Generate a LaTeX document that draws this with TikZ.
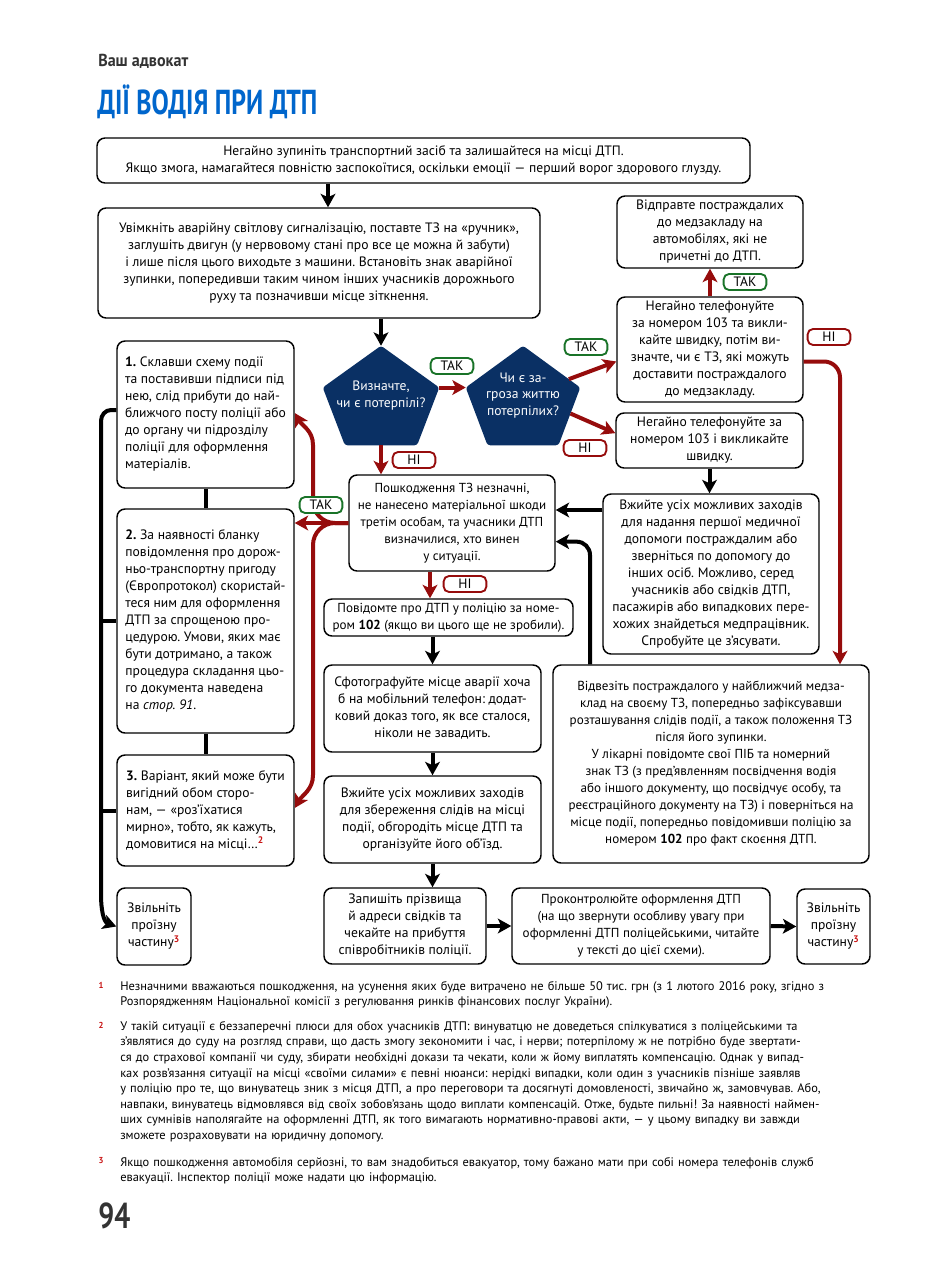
\documentclass[tikz,border=0pt]{standalone}
\usepackage{fontspec}
\setmainfont{PT Sans}
\usepackage{graphicx}
\usetikzlibrary{arrows.meta,calc,backgrounds,positioning}
\definecolor{pentblue}{RGB}{10,48,100}
\definecolor{flowred}{RGB}{150,12,12}
\definecolor{yesgreen}{RGB}{25,115,40}
\definecolor{titleblue}{RGB}{0,102,204}
\definecolor{headgray}{RGB}{51,51,51}
\definecolor{fnred}{RGB}{200,20,20}

\frenchspacing
\newcommand\fnmark[1]{\textsuperscript{\textcolor{fnred}{\bfseries #1}}}
\newcommand\jline[1]{\hbox to\hsize{#1}}
% corners of a pentagon drawn inside a rectangular node
\newcommand\pentcorners[1]{%
  \coordinate (#1-r) at ($(#1.north east)!0.42!(#1.south east)$);
  \coordinate (#1-l) at ($(#1.north west)!0.42!(#1.south west)$);
  \coordinate (#1-br) at ($(#1.south east)!0.19!(#1.south west)$);
  \coordinate (#1-bl) at ($(#1.south west)!0.19!(#1.south east)$);
  \fill[pentblue, rounded corners=2pt] (#1.north) -- (#1-r) -- (#1-br) -- (#1-bl) -- (#1-l) -- cycle;}

\tikzset{
  box/.style={draw, line width=1.1pt, rounded corners=6pt, fill=white, align=center,
    inner sep=2pt, font=\fontsize{10.2}{12.75}\selectfont},
  lbox/.style={box, align=left},
  tight/.style={font=\fontsize{9.8}{12.75}\selectfont},
  sz/.style 2 args={minimum width=#1*0.75pt, minimum height=#2*0.75pt},
  penta/.style={text=white, align=center, inner sep=0pt, font=\fontsize{10.2}{12.2}\selectfont},
  tagyes/.style={draw=yesgreen, line width=1.4pt, rounded corners=4pt, fill=white,
    minimum width=32pt, minimum height=12pt, inner sep=0pt, font=\fontsize{10.2}{10}\selectfont},
  tagno/.style={tagyes, draw=flowred},
  blk/.style={line width=3pt, -{Stealth[length=10pt,width=11pt,inset=2.5pt]}},
  redarr/.style={blk, draw=flowred},
  bar/.style={line width=3pt},
  fntext/.style={anchor=north west, inner sep=0pt, text width=562.5pt, align=left,
    font=\fontsize{9.3}{11.7}\selectfont},
  fnnum/.style={inner sep=0pt, text=fnred, font=\fontsize{6.5}{7}\bfseries},
}

\begin{document}
\begin{tikzpicture}[x=0.75pt, y=0.75pt]
\useasboundingbox (0,0) rectangle (932,-1280);

% page heading
\node[anchor=base west, inner sep=0pt, text=headgray] (head) at (98,-67)
  {\fontsize{13}{13}\selectfont\bfseries\resizebox{67.5pt}{\height}{Ваш адвокат}};
\node[anchor=base west, inner sep=0pt, text=titleblue] (title) at (97,-115)
  {\fontsize{26}{26}\selectfont\bfseries\resizebox{165pt}{\height}{ДІЇ ВОДІЯ ПРИ ДТП}};

% main column
\node[box, sz={653}{45}] (stop) at (423.5,-160.5)
  {Негайно зупиніть транспортний засіб та залишайтеся на місці ДТП.\\
   Якщо змога, намагайтеся повністю заспокоїтися, оскільки емоції — перший ворог здорового глузду.};
\node[box, sz={442}{110}] (hazard) at (319,-263)
  {Увімкніть аварійну світлову сигналізацію, поставте ТЗ на «ручник»,\\
   заглушіть двигун (у нервовому стані про все це можна й забути)\\
   і лише після цього виходьте з машини. Встановіть знак аварійної\\
   зупинки, попередивши таким чином інших учасників дорожнього\\
   руху та позначивши місце зіткнення.};
\node[penta, minimum width=116*0.75pt, minimum height=99*0.75pt] (vic) at (381,-395.5)
  {Визначте,\\чи є потерпілі?};
\node[penta, minimum width=114*0.75pt, minimum height=99*0.75pt] (threat) at (523,-395.5)
  {Чи є за-\\гроза життю\\потерпілих?};
\begin{scope}[on background layer]
  \fill[white] (0,0) rectangle (932,-1280);
  \pentcorners{vic}
  \pentcorners{threat}
\end{scope}

% right column
\node[box, sz={186}{72}] (sendoff) at (710,-232)
  {Відправте постраждалих\\до медзакладу на\\автомобілях, які не\\причетні до ДТП.};
\node[box, sz={186}{105}] (call1) at (710,-349.5)
  {Негайно телефонуйте\\за номером 103 та викли-\\кайте швидку, потім ви-\\значте, чи є ТЗ, які можуть\\доставити постраждалого\\до медзакладу.};
\node[box, sz={187}{55}] (call2) at (709.5,-440.5)
  {Негайно телефонуйте за\\номером 103 і викликайте\\швидку.};
\node[box, sz={216}{160}] (firstaid) at (711,-574)
  {Вжийте усіх можливих заходів\\для надання першої медичної\\допомоги постраждалим або\\зверніться по допомогу до\\інших осіб. Можливо, серед\\учасників або свідків ДТП,\\пасажирів або випадкових пере-\\хожих знайдеться медпрацівник.\\Спробуйте це з’ясувати.};
\node[box, tight, sz={316}{198}] (hospital) at (711,-764)
  {Відвезіть постраждалого у найближчий медза-\\клад на своєму ТЗ, попередньо зафіксувавши\\розташування слідів події, а також положення ТЗ\\після його зупинки.\\
   У лікарні повідомте свої ПІБ та номерний\\знак ТЗ (з пред’явленням посвідчення водія\\або іншого документу, що посвідчує особу, та\\реєстраційного документу на ТЗ) і поверніться на\\місце події, попередньо повідомивши поліцію за\\номером \textbf{102} про факт скоєння ДТП.};

% centre column
\node[box, tight, sz={206}{96}] (minor) at (452,-523)
  {Пошкодження ТЗ незначні,\\не нанесено матеріальної шкоди\\третім особам, та учасники ДТП\\визначилися, хто винен\\у ситуації.};
\node[box, tight, sz={249}{37}] (notify) at (448.5,-617.5)
  {Повідомте про ДТП у поліцію за номе-\\ром \textbf{102} (якщо ви цього ще не зробили).};
\node[box, sz={217}{87}] (photo) at (432.5,-708.5)
  {Сфотографуйте місце аварії хоча\\б на мобільний телефон: додат-\\ковий доказ того, як все сталося,\\ніколи не завадить.};
\node[box, sz={217}{87}] (traces) at (432.5,-819.5)
  {Вжийте усіх можливих заходів\\для збереження слідів на місці\\події, обгородіть місце ДТП та\\організуйте його об’їзд.};
\node[box, sz={162}{76}] (witness) at (405,-926)
  {Запишіть прізвища\\й адреси свідків та\\чекайте на прибуття\\співробітників поліції.};
\node[box, tight, sz={258}{76}] (control) at (641,-926)
  {Проконтролюйте оформлення ДТП\\(на що звернути особливу увагу при\\оформленні ДТП поліцейськими, читайте\\у тексті до цієї схеми).};
\node[box, sz={73}{75}] (clearR) at (833.5,-926.5)
  {Звільніть\\проїзну\\частину\fnmark{3}};

% left column
\node[lbox, sz={177}{147}] (opt1) at (205.5,-414.5)
  {\textbf{1.} Склавши схему події\\та поставивши підписи під\\нею, слід прибути до най-\\ближчого посту поліції або\\до органу чи підрозділу\\поліції для оформлення\\матеріалів.};
\node[lbox, sz={177}{224}] (opt2) at (205.5,-621)
  {\textbf{2.} За наявності бланку\\повідомлення про дорож-\\ньо-транспортну пригоду\\(Європротокол) скористай-\\теся ним для оформлення\\ДТП за спрощеною про-\\цедурою. Умови, яких має\\бути дотримано, а також\\процедура складання цьо-\\го документа наведена\\на \textit{стор. 91}.};
\node[lbox, sz={177}{111}] (opt3) at (205.5,-810.5)
  {\textbf{3.} Варіант, який може бути\\вигідний обом сторо-\\нам, — «роз’їхатися\\мирно», тобто, як кажуть,\\домовитися на місці…\fnmark{2}};
\node[box, sz={74}{77}] (clearL) at (154,-926.5)
  {Звільніть\\проїзну\\частину\fnmark{3}};

% black connectors
\draw[blk] (stop.south -| 328,0) -- (hazard.north -| 328,0);
\draw[blk] (hazard.south -| vic.north) -- (vic.north);
\draw[blk] (call2.south) -- (firstaid.north -| call2.south);
\draw[blk] ([yshift=48pt]firstaid.west) -- ([yshift=48pt]firstaid.west -| minor.east);
\draw[blk, rounded corners=10pt] (hospital.north -| 590,0) |- ([yshift=-14pt]minor.east);
\draw[blk] (notify.south -| photo.north) -- (photo.north);
\draw[blk] (photo.south) -- (traces.north);
\draw[blk] (traces.south) -- (witness.north -| traces.south);
\draw[blk] (witness.east) -- (control.west);
\draw[blk] (control.east) -- (clearR.west);
\draw[bar] (opt1.south) -- (opt2.north);
\draw[bar] (opt2.south) -- (opt3.north);
\draw[bar] (opt2.west) -- (opt2.west -| 101,0);
\draw[bar] (opt3.west) -- (opt3.west -| 101,0);
\draw[blk] (opt1.west |- 0,-410) -- (111,-410) to[out=180,in=90] (101,-421)
  -- (101,-895) to[out=-90,in=160] (clearL.west);

% red connectors
\draw[redarr] (vic-r) -- (threat-l);
\draw[redarr] ($(threat.north)!0.8!(threat-r)$) -- ([yshift=-9pt]call1.west);
\draw[redarr] ($(threat-r)!0.45!(threat-br)$) -- ([yshift=5.5pt]call2.west);
\draw[redarr] (vic.south) -- (minor.north -| vic.south);
\draw[redarr] (call1.north) -- (sendoff.south);
\draw[redarr, rounded corners=12pt] ([yshift=-9pt]call1.east) -| (hospital.north -| 840,0);
\draw[redarr] (minor.south -| 430,0) -- (notify.north -| 430,0);
\draw[redarr] (minor.west) -- (opt2.east |- minor.west);
\draw[redarr] (minor.west) -- (335,-523) to[out=180,in=-90] (313,-501)
  -- (313,-445) to[out=90,in=-60] (opt1.east |- 0,-413);
\draw[redarr] (minor.west) -- (335,-523) to[out=180,in=90] (313,-545)
  -- (313,-775) to[out=-90,in=60] (opt3.east |- 0,-808);

% answer tags
\node[tagyes] (yes1) at (452,-366) {ТАК};
\node[tagyes] (yes2) at (586,-347) {ТАК};
\node[tagno] (no2) at (585,-448) {НІ};
\node[tagno] (no1) at (414,-460) {НІ};
\node[tagyes] (yes3) at (745,-282) {ТАК};
\node[tagno] (no3) at (829,-337) {НІ};
\node[tagno] (no4) at (465,-584) {НІ};
\node[tagyes] (yes4) at (321,-505) {ТАК};

% footnotes
\node[fnnum] (fn1n) at (101,-985) {1};
\node[fntext] (fn1) at (120,-981)
  {\jline{Незначними вважаються пошкодження, на усунення яких буде витрачено не більше 50 тис. грн (з 1 лютого 2016 року, згідно з}\par
   Розпорядженням Національної комісії з регулювання ринків фінансових послуг України).};
\node[fnnum] (fn2n) at (101,-1025) {2};
\node[fntext] (fn2) at (120,-1021)
  {\jline{У такій ситуації є беззаперечні плюси для обох учасників ДТП: винуватцю не доведеться спілкуватися з поліцейськими та}\par
   \jline{з’являтися до суду на розгляд справи, що дасть змогу зекономити і час, і нерви; потерпілому ж не потрібно буде звертати-}\par
   \jline{ся до страхової компанії чи суду, збирати необхідні докази та чекати, коли ж йому виплатять компенсацію. Однак у випад-}\par
   \jline{ках розв’язання ситуації на місці «своїми силами» є певні нюанси: нерідкі випадки, коли один з учасників пізніше заявляв}\par
   \jline{у поліцію про те, що винуватець зник з місця ДТП, а про переговори та досягнуті домовленості, звичайно ж, замовчував. Або,}\par
   \jline{навпаки, винуватець відмовлявся від своїх зобов’язань щодо виплати компенсацій. Отже, будьте пильні! За наявності наймен-}\par
   \jline{ших сумнівів наполягайте на оформленні ДТП, як того вимагають нормативно-правові акти, — у цьому випадку ви завжди}\par
   зможете розраховувати на юридичну допомогу.};
\node[fnnum] (fn3n) at (101,-1161) {3};
\node[fntext] (fn3) at (120,-1157)
  {\jline{Якщо пошкодження автомобіля серйозні, то вам знадобиться евакуатор, тому бажано мати при собі номера телефонів служб}\par
   евакуації. Інспектор поліції може надати цю інформацію.};

% page number
\node[anchor=base west, inner sep=0pt, text=headgray] (pagenum) at (98,-1228)
  {\fontsize{27}{27}\selectfont\bfseries\resizebox{24pt}{\height}{94}};
\end{tikzpicture}
\end{document}
